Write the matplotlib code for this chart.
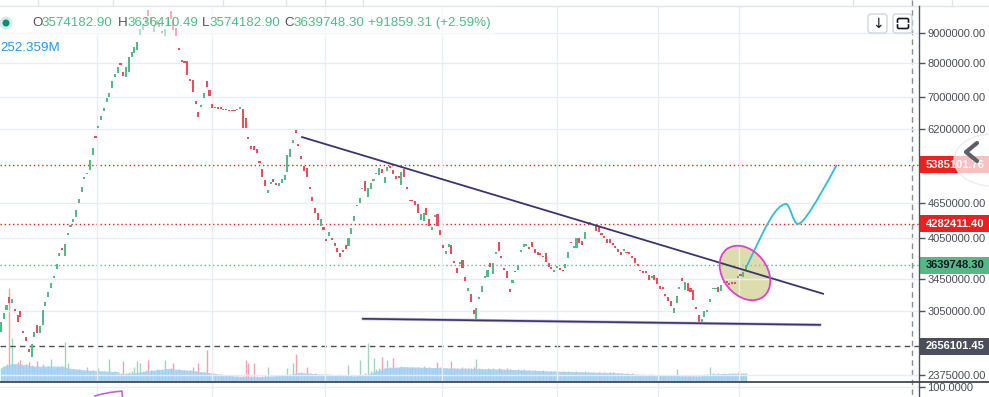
import matplotlib
matplotlib.use("Agg")
import matplotlib.pyplot as plt
import numpy as np
from matplotlib.lines import Line2D
from matplotlib.patches import Rectangle, Ellipse, FancyBboxPatch, Circle, PathPatch
from matplotlib.path import Path
from matplotlib.ticker import NullLocator
from matplotlib.transforms import Affine2D, ScaledTranslation

plt.rcParams["font.family"] = ["Liberation Sans", "DejaVu Sans"]

W, H = 989, 397

# candle bodies, millions
opens = [
    2.81, 2.95, 3.06, 3.22, 3.15, 3.07, 3.00, 3.05, 2.82, 2.76,
    2.63, 2.55, 2.76, 2.89, 2.80, 2.89, 3.11, 3.22, 3.34, 3.46,
    3.59, 3.78, 3.90, 3.78, 4.10, 4.23, 4.31, 4.40, 4.64, 4.84,
    5.10, 5.20, 5.28, 5.60, 6.03, 6.22, 6.42, 6.64, 6.88, 7.02,
    7.27, 7.58, 7.70, 8.00, 7.73, 7.58, 7.73, 8.20, 8.32, 8.42,
    8.93, 9.11, 9.32, 9.84, 9.58, 9.03, 9.28, 9.35, 9.07, 8.89,
    9.25, 9.80, 9.47, 9.18, 8.49, 8.10, 8.07, 8.07, 7.52, 7.50,
    6.91, 6.61, 6.75, 6.99, 7.47, 7.21, 6.82, 6.75, 6.72, 6.72,
    6.70, 6.70, 6.67, 6.67, 6.67, 6.67, 6.70, 6.70, 6.47, 6.00,
    5.80, 5.80, 5.73, 5.47, 5.30, 5.08, 4.83, 5.00, 5.10, 5.02,
    4.96, 5.02, 5.08, 5.24, 5.55, 5.86, 6.17, 5.84, 5.58, 5.36,
    5.32, 4.94, 4.75, 4.55, 4.46, 4.25, 4.23, 4.04, 4.08, 4.05,
    3.97, 3.90, 3.82, 3.85, 3.94, 3.93, 4.11, 4.33, 4.59, 4.64,
    4.90, 5.06, 4.75, 4.90, 5.06, 5.20, 5.18, 5.30, 5.02, 5.26,
    5.36, 5.28, 5.16, 5.16, 4.98, 5.30, 4.94, 4.70, 4.70, 4.68,
    4.62, 4.35, 4.33, 4.55, 4.36, 4.18, 4.40, 4.45, 4.18, 3.94,
    3.81, 3.91, 3.94, 3.71, 3.61, 3.66, 3.72, 3.48, 3.30, 3.26,
    3.06, 2.92, 3.20, 3.28, 3.47, 3.48, 3.68, 3.52, 3.81, 3.99,
    3.78, 3.61, 3.56, 3.32, 3.40, 3.56, 3.58, 3.84, 3.91, 3.93,
    3.91, 3.99, 3.88, 3.84, 3.82, 3.78, 3.82, 3.68, 3.62, 3.55,
    3.61, 3.61, 3.58, 3.61, 3.75, 3.99, 3.90, 3.90, 4.05, 4.01,
    4.04, 4.28, 4.29, 4.26, 4.25, 4.25, 4.13, 4.08, 4.04, 4.04,
    3.97, 3.93, 3.88, 3.84, 3.85, 3.84, 3.82, 3.78, 3.75, 3.66,
    3.58, 3.56, 3.55, 3.51, 3.47, 3.51, 3.46, 3.36, 3.35, 3.26,
    3.22, 3.17, 3.03, 3.15, 3.32, 3.47, 3.31, 3.40, 3.34, 3.31,
    3.10, 3.00, 2.90, 2.98, 3.04, 3.16, 3.32, 3.32, 3.35, 3.30,
    3.40, 3.43, 3.40, 3.40, 3.40, 3.47, 3.52, 3.48, 3.5741829,
]
closes = [
    2.92, 3.03, 3.12, 3.15, 3.20, 3.05, 2.92, 2.98, 2.80, 2.71,
    2.60, 2.68, 2.81, 2.80, 2.87, 3.06, 3.16, 3.28, 3.40, 3.50,
    3.66, 3.82, 3.87, 3.96, 4.13, 4.26, 4.36, 4.52, 4.72, 4.94,
    5.14, 5.22, 5.49, 5.75, 5.98, 6.27, 6.52, 6.72, 6.99, 7.12,
    7.47, 7.67, 7.88, 7.94, 7.61, 7.88, 8.20, 8.35, 8.52, 8.69,
    9.14, 9.32, 9.58, 9.61, 9.32, 9.28, 9.47, 9.21, 9.00, 9.14,
    9.50, 9.50, 9.11, 8.89, 8.42, 8.03, 8.00, 7.64, 7.47, 7.15,
    6.82, 6.49, 6.80, 7.12, 7.29, 7.04, 6.72, 6.72, 6.70, 6.70,
    6.67, 6.67, 6.64, 6.64, 6.64, 6.70, 6.75, 6.22, 6.22, 5.96,
    5.73, 5.71, 5.64, 5.42, 5.14, 4.96, 4.89, 5.04, 5.04, 4.98,
    5.02, 5.10, 5.18, 5.60, 5.73, 5.93, 6.10, 5.80, 5.51, 5.26,
    5.14, 4.90, 4.68, 4.46, 4.35, 4.36, 4.18, 4.01, 4.15, 4.02,
    3.93, 3.84, 3.76, 3.84, 3.88, 4.05, 4.21, 4.41, 4.61, 4.74,
    4.92, 4.87, 4.92, 5.02, 5.10, 5.22, 5.32, 5.22, 5.14, 5.34,
    5.32, 5.20, 5.10, 5.12, 5.24, 5.14, 4.90, 4.68, 4.68, 4.61,
    4.46, 4.45, 4.46, 4.43, 4.25, 4.23, 4.41, 4.25, 4.10, 3.90,
    3.85, 3.96, 3.81, 3.68, 3.54, 3.69, 3.61, 3.43, 3.34, 3.16,
    3.01, 3.09, 3.22, 3.36, 3.48, 3.58, 3.62, 3.68, 3.82, 3.85,
    3.75, 3.58, 3.46, 3.28, 3.44, 3.55, 3.65, 3.87, 3.96, 3.96,
    3.88, 3.91, 3.82, 3.79, 3.79, 3.76, 3.69, 3.62, 3.59, 3.58,
    3.63, 3.58, 3.56, 3.66, 3.84, 3.97, 3.91, 4.05, 3.97, 3.94,
    4.15, 4.29, 4.31, 4.28, 4.16, 4.15, 4.10, 4.05, 3.97, 3.97,
    3.94, 3.90, 3.84, 3.79, 3.88, 3.82, 3.81, 3.75, 3.68, 3.63,
    3.56, 3.54, 3.54, 3.44, 3.50, 3.44, 3.39, 3.32, 3.32, 3.23,
    3.17, 3.11, 3.09, 3.23, 3.35, 3.43, 3.41, 3.30, 3.28, 3.18,
    3.07, 2.92, 2.95, 3.05, 3.06, 3.20, 3.34, 3.34, 3.28, 3.37,
    3.41, 3.40, 3.37, 3.39, 3.39, 3.48, 3.50, 3.55, 3.6397483,
]

# volume per candle, millions
volumes = [
    380, 450, 520, 2800, 1290, 470, 560, 630, 420, 500,
    560, 480, 430, 600, 400, 520, 380, 440, 660, 350,
    420, 380, 460, 1170, 540, 330, 360, 300, 350, 310,
    280, 420, 300, 330, 260, 390, 280, 300, 250, 660,
    240, 290, 260, 230, 600, 250, 280, 300, 420, 600,
    540, 300, 320, 630, 340, 280, 360, 330, 300, 630,
    350, 380, 540, 300, 360, 280, 320, 300, 340, 420,
    300, 540, 260, 280, 930, 240, 260, 200, 180, 220,
    150, 170, 140, 160, 130, 150, 120, 160, 630, 540,
    160, 540, 150, 130, 140, 180, 420, 130, 120, 150,
    140, 170, 160, 390, 200, 540, 810, 230, 260, 220,
    420, 240, 200, 230, 180, 210, 190, 220, 200, 170,
    190, 160, 200, 180, 150, 480, 170, 140, 160, 630,
    190, 230, 1140, 300, 690, 350, 400, 720, 380, 630,
    420, 690, 400, 380, 450, 410, 430, 390, 420, 400,
    420, 400, 450, 380, 430, 360, 400, 560, 410, 380,
    390, 370, 600, 380, 400, 360, 420, 380, 390, 400,
    420, 650, 380, 360, 340, 390, 350, 380, 330, 400,
    350, 330, 380, 360, 340, 320, 370, 330, 350, 310,
    320, 300, 340, 310, 290, 330, 300, 280, 310, 290,
    300, 270, 290, 280, 300, 260, 280, 290, 270, 260,
    290, 260, 250, 270, 240, 260, 250, 280, 240, 260,
    270, 240, 230, 250, 220, 240, 210, 230, 200, 220,
    190, 210, 180, 200, 210, 190, 170, 180, 160, 170,
    160, 180, 170, 360, 150, 160, 170, 150, 160, 170,
    150, 160, 190, 200, 210, 420, 230, 220, 240, 210,
    230, 220, 240, 250, 230, 260, 240, 250, 252,
]

# volume moving average (area)
vol_ma_idx = [0, 4, 7, 12, 22, 24, 31, 42, 43, 48, 60, 67, 77, 84, 94, 96, 103, 107,
              115, 125, 127, 132, 138, 144, 162, 180, 198, 216, 223, 233, 252, 256, 268]
vol_ma = [410, 530, 510, 450, 450, 390, 330, 280, 210, 250, 380, 330, 230, 150, 130, 150, 180, 260,
          210, 180, 150, 210, 390, 430, 390, 360, 300, 260, 240, 180, 150, 220, 230]

# drawings
res_idx, res_price = [108.3, 295.7], [6.00e6, 3.26e6]
sup_idx, sup_price = [130.2, 294.6], [2.957e6, 2.888e6]
# projection curve: start, then (ctrl, ctrl, end) triples
proj_idx = [268.2, 274.8, 278.4, 282.4, 283.8, 284.9, 286.7, 288.5, 292.8, 300.6]
proj_price = [3.624, 4.213, 4.606, 4.624, 4.624, 4.278, 4.278, 4.278, 4.606, 5.383]
circle_idx, circle_price = 267.6, 3.535e6

price_ticks = [9000000, 8000000, 7000000, 6200000, 4650000, 4050000, 3450000, 3050000, 2375000]
month_idx = [34.5, 76, 116.5, 158.5, 200, 236.5, 265.5]
price_lines = [
    (5385101.76, "#f01e1e", (0, (1, 2)), "white"),
    (4282411.40, "#f01e1e", (0, (1, 2)), "white"),
    (3639748.30, "#53b987", (0, (1, 2)), "#131722"),
    (2656101.45, "#4c4f5a", (0, (4, 3)), "white"),
]

osc_idx = [33.8, 35.6, 37.4, 39.2, 41.0, 42.8, 43.5, 43.9]
osc_val = [82, 85, 87, 89, 90.4, 91.4, 92, 70]

GREEN, RED = "#53b987", "#eb4d5c"
GRID = "#e9ecf1"
AXIS = "#50535e"

fig = plt.figure(figsize=(W / 100, H / 100), dpi=100, facecolor="white")
px = Affine2D().scale(1 / W, -1 / H).translate(0, 1) + fig.transFigure


def rect(x0, y0, x1, y1):
    return [x0 / W, 1 - y1 / H, (x1 - x0) / W, (y1 - y0) / H]


ax_v = fig.add_axes(rect(0, 6, 919, 381), zorder=0)
ax = fig.add_axes(rect(0, 6, 919, 381), sharex=ax_v, zorder=1)
ax.patch.set_alpha(0)
ax_low = fig.add_axes(rect(0, 382, 919, 397), sharex=ax_v)

o = np.array(opens) * 1e6
c = np.array(closes) * 1e6
idx = np.arange(len(o))
up = c >= o
lo = np.minimum(o, c)
body = np.maximum(np.abs(c - o), lo * 0.005)

# volume
vcol = np.where(up, "#9fd6bb", "#f0a3ad")
ax_v.vlines(idx, 0, volumes, colors=vcol, lw=1, zorder=1)
ax_v.fill_between(vol_ma_idx, vol_ma, 0, color="#9fd1f7", alpha=0.85, lw=0, zorder=2)
ax_v.set_ylim(0, 11250)
ax_v.axis("off")

# price pane
ax.set_yscale("log")
ax.bar(idx, body, bottom=lo, width=0.75, color=np.where(up, GREEN, RED), lw=0, zorder=2)
for price, col, ls, _ in price_lines:
    ax.axhline(price, color=col, lw=1, ls=ls, zorder=1.2)

ax.plot(res_idx, res_price, color="#3b3470", lw=1.3, zorder=3)
ax.plot(sup_idx, sup_price, color="#c4bce3", lw=2.2, zorder=2.9)
ax.plot(sup_idx, sup_price, color="#3b3470", lw=1.2, zorder=3)

proj_codes = [Path.MOVETO] + [Path.CURVE4] * (len(proj_idx) - 1)
proj_path = Path(np.column_stack([proj_idx, np.array(proj_price) * 1e6]), proj_codes)
ax.add_patch(PathPatch(proj_path, facecolor="none", edgecolor="#2fbdd3", lw=1.3, zorder=3))

ell_trans = fig.dpi_scale_trans + ScaledTranslation(circle_idx, circle_price, ax.transData)
ax.add_artist(Ellipse((0, 0), 0.60, 0.44, angle=-52, transform=ell_trans,
                      facecolor="#c6c57b", alpha=0.6, edgecolor="none", zorder=1.5))
ax.add_artist(Ellipse((0, 0), 0.60, 0.44, angle=-52, transform=ell_trans,
                      facecolor="none", edgecolor="#e040cc", lw=1.3, zorder=3.2))

ax.set_xlim(-0.35, 330.2)
ax.set_ylim(2.321e6, 9.996e6)
ax.yaxis.tick_right()
ax.set_yticks(price_ticks)
ax.set_yticklabels([f"{t:.2f}" for t in price_ticks])
ax.yaxis.set_minor_locator(NullLocator())
ax.set_xticks(month_idx)
ax.tick_params(axis="x", bottom=False, labelbottom=False)
ax.tick_params(axis="y", length=4, width=1, color=AXIS, labelcolor="#4a4d57", labelsize=8, pad=2)
ax.grid(True, color=GRID, lw=1, zorder=0)
for s in ax.spines.values():
    s.set_visible(False)

for price, col, _, fg in price_lines:
    tag = Rectangle((0, -0.085), 0.70, 0.17,
                    transform=fig.dpi_scale_trans + ScaledTranslation(1.0, price, ax.get_yaxis_transform()),
                    facecolor=col, edgecolor="none", clip_on=False, zorder=6)
    ax.add_artist(tag)
    ax.annotate(f"{price:.2f}", xy=(1.0, price), xycoords=ax.get_yaxis_transform(),
                xytext=(7, 0), textcoords="offset pixels", va="center", ha="left",
                fontsize=8, fontweight="bold", color=fg, annotation_clip=False, zorder=7)

# lower pane
ax_low.plot(osc_idx, osc_val, color="#c464cc", lw=1.2)
ax_low.set_ylim(80, 110)
ax_low.yaxis.tick_right()
ax_low.set_yticks([100])
ax_low.set_yticklabels(["100.0000"])
ax_low.set_xticks(month_idx)
ax_low.tick_params(axis="x", bottom=False, labelbottom=False)
ax_low.tick_params(axis="y", length=4, width=1, color=AXIS, labelcolor="#4a4d57", labelsize=8, pad=2)
ax_low.grid(True, color=GRID, lw=1)
for s in ax_low.spines.values():
    s.set_visible(False)

# frame lines
fig.add_artist(Line2D([0, W], [6, 6], transform=px, color="#e0e3eb", lw=1))
for xg in [38, 113, 223, 286, 325, 363, 853, 952]:
    fig.add_artist(Line2D([xg, xg], [0, 6], transform=px, color="#e0e3eb", lw=1))
fig.add_artist(Line2D([912, 912], [0, H], transform=px, color="#8a8d96", lw=1, ls=(0, (4, 3)), zorder=0.5))
fig.add_artist(Line2D([919, 919], [6, H], transform=px, color=AXIS, lw=1))
fig.add_artist(Line2D([0, W], [381.5, 381.5], transform=px, color="#434651", lw=1.3))

# legend
fig.add_artist(Rectangle((0, 7), 495, 31, transform=px, facecolor="white", alpha=0.55, lw=0, zorder=4))
fig.add_artist(Circle((6, 23), 6.5, transform=px, facecolor="#d3ece7", lw=0, zorder=5))
fig.add_artist(Circle((6, 23), 3.5, transform=px, facecolor="#0b8f75", lw=0, zorder=5))
legend_parts = [(32, "O", "3574182.90"), (118, "H", "3636410.49"), (202, "L", "3574182.90"),
                (284, "C", "3639748.30")]
letter_w = {"O": 10, "H": 9.5, "L": 7, "C": 9.3}
for x0, letter, val in legend_parts:
    fig.text(x0 / W, 1 - 23 / H, letter, fontsize=9.6, color="#50535e", va="center", ha="left", zorder=6)
    fig.text((x0 + letter_w[letter]) / W, 1 - 23 / H, val, fontsize=9.6, color=GREEN,
             va="center", ha="left", zorder=6)
fig.text(368 / W, 1 - 23 / H, "+91859.31 (+2.59%)", fontsize=9.6, color=GREEN, va="center", ha="left", zorder=6)
fig.text(0 / W, 1 - 48 / H, "252.359M", fontsize=9.6, color="#2196f3", va="center", ha="left", zorder=6)

# buttons
for bx in [868, 893]:
    fig.add_artist(FancyBboxPatch((bx, 14), 19, 19, boxstyle="round,pad=0,rounding_size=3", transform=px,
                                  facecolor="white", edgecolor="#d1d4dc", lw=1, zorder=6))
fig.text(877.5 / W, 1 - 23.5 / H, "↓", fontsize=10, family="DejaVu Sans", color="#131722",
         ha="center", va="center", zorder=7)
fig.add_artist(Line2D([897.5, 897.5, 898.5, 907.5, 908.5, 908.5], [22, 19.5, 18.5, 18.5, 19.5, 22],
                      transform=px, color="#131722", lw=1.2, zorder=7))
fig.add_artist(Line2D([897.5, 897.5, 898.5, 907.5, 908.5, 908.5], [25, 27.5, 28.5, 28.5, 27.5, 25],
                      transform=px, color="#131722", lw=1.2, zorder=7))

# scroll button
fig.add_artist(Ellipse((992, 160), 76, 52, transform=px, facecolor="white", alpha=0.72,
                       edgecolor="#e3e5ea", lw=1, zorder=8))
fig.add_artist(Line2D([977, 966, 977], [143, 152, 161], transform=px, color="#5d606b", lw=3,
                      solid_capstyle="round", solid_joinstyle="round", zorder=9))

fig.savefig("out.png", dpi=100, facecolor="white")
